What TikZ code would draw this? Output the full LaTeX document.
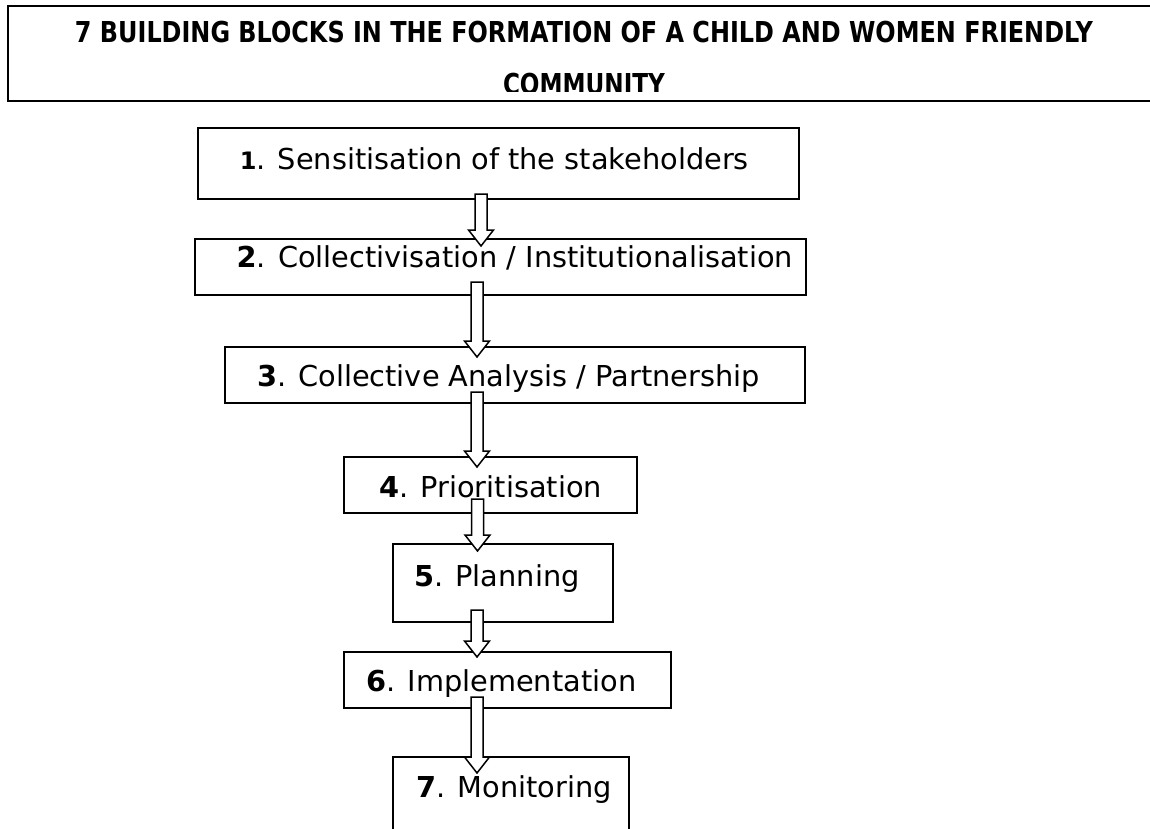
\documentclass[tikz,border=0pt]{standalone}
\usepackage{fontspec}
\setmainfont{DejaVu Sans}
\usepackage{graphicx}
\usetikzlibrary{calc}
\tikzset{
  box/.style={draw=black, line width=1.5pt, fill=white, inner sep=0pt},
  btxt/.style={font=\fontsize{28.8}{34}\selectfont, inner sep=0pt},
  ttxt/.style={font=\fontsize{28.8}{34}\selectfont\bfseries, inner sep=0pt, anchor=base},
  barrow/.style={draw=black, line width=1.5pt, fill=white, line join=miter},
}
\newcommand\blockarrow[2]{%
  \draw[barrow] let \p1=(#1), \p2=(#2) in
    (\x1-6pt,\y1) -- (\x1+6pt,\y1) -- (\x1+6pt,\y2+16pt) -- (\x1+12.5pt,\y2+16pt)
    -- (\x1,\y2) -- (\x1-12.5pt,\y2+16pt) -- (\x1-6pt,\y2+16pt) -- cycle;}
\begin{document}
\begin{tikzpicture}[x=1pt,y=-1pt]
\clip (0,0) rectangle (1150,829);
\fill[white] (0,0) rectangle (1150,829);
% title box
\node[box, minimum width=1145pt, minimum height=95pt] (title) at (580.5,53.5) {};
\node[ttxt] (tl1) at (584,43) {\resizebox{1018pt}{\height}{7 BUILDING BLOCKS IN THE FORMATION OF A CHILD AND WOMEN FRIENDLY}};
\begin{scope}
  \clip (0,0) rectangle (1150,92);
  \node[ttxt] (tl2) at (584,95) {\resizebox{162pt}{\height}{COMMUNITY}};
\end{scope}
% boxes
\node[box, minimum width=601pt, minimum height=71pt] (b1) at (498.5,163.5) {};
\node[box, minimum width=611pt, minimum height=56pt] (b2) at (500.5,267) {};
\node[box, minimum width=580pt, minimum height=56pt] (b3) at (515,375) {};
\node[box, minimum width=293pt, minimum height=56pt] (b4) at (490.5,485) {};
\node[box, minimum width=220pt, minimum height=78pt] (b5) at (503,583) {};
\node[box, minimum width=327pt, minimum height=56pt] (b6) at (507.5,680) {};
\node[box, minimum width=236pt, minimum height=93pt] (b7) at (511,803.5) {};
% texts
\node[btxt, anchor=base east] (t1) at (749,170) {{\bfseries\fontsize{24}{30}\selectfont 1}. Sensitisation of the stakeholders};
\node[btxt, anchor=base east] (t2) at (793,267) {{\bfseries 2}. Collectivisation / Institutionalisation};
\node[btxt, anchor=base east] (t3) at (760,386) {{\bfseries 3}. Collective Analysis / Partnership};
\node[btxt, anchor=base west] (t4) at (379,497) {{\bfseries 4}. Prioritisation};
\node[btxt, anchor=base west] (t5) at (414,586) {{\bfseries 5}. Planning};
\node[btxt, anchor=base west] (t6) at (366,691) {{\bfseries 6}. Implementation};
\node[btxt, anchor=base west] (t7) at (416,797) {{\bfseries 7}. Monitoring};
% arrow end points
\coordinate (s1) at (481,194);   \coordinate (e1) at (481,246);
\coordinate (s2) at (477,282);   \coordinate (e2) at (477,357);
\coordinate (s3) at (477,392);   \coordinate (e3) at (477,467);
\coordinate (s4) at (477.5,499); \coordinate (e4) at (477.5,551);
\coordinate (s5) at (477,610);   \coordinate (e5) at (477,657);
\coordinate (s6) at (477,697);   \coordinate (e6) at (477,773);
\blockarrow{s1}{e1}
\blockarrow{s2}{e2}
\blockarrow{s3}{e3}
\blockarrow{s4}{e4}
\blockarrow{s5}{e5}
\blockarrow{s6}{e6}
\end{tikzpicture}
\end{document}
